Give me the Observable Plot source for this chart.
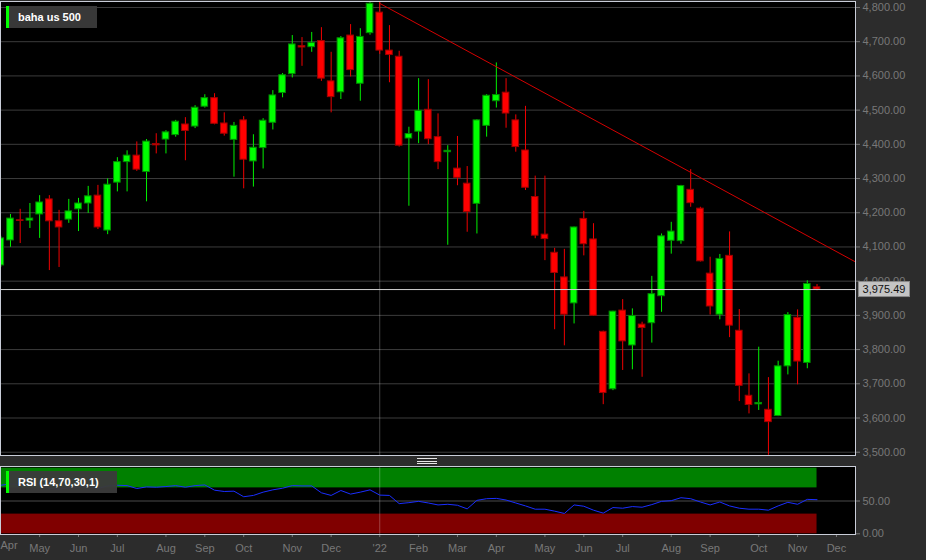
<!DOCTYPE html>
<html><head><meta charset="utf-8">
<script src="https://cdn.jsdelivr.net/npm/d3@7"></script>
<script src="https://cdn.jsdelivr.net/npm/@observablehq/plot@0.6"></script>
<style>
body{margin:0;background:#2c2c2c;}
#wrap{position:relative;width:926px;height:560px;overflow:hidden;background:#2c2c2c;font-family:"Liberation Sans",Arial,sans-serif;}
.tag{position:absolute;height:22px;background:rgba(58,58,58,0.96);color:#fff;font-weight:bold;font-size:11px;line-height:22px;border-left:3px solid #00ff00;box-sizing:border-box;padding-left:9px;white-space:nowrap;}
.hl{position:absolute;left:417px;width:20px;height:1px;background:#e8e8e8;}
</style></head>
<body>
<div id="wrap">
  <div id="main" style="position:absolute;left:0;top:0"></div>
  <div id="rsi" style="position:absolute;left:0;top:458px"></div>
  <div class="tag" style="left:6px;top:6px;width:91px">baha us 500</div>
  <div class="tag" style="left:6px;top:471px;width:111px">RSI (14,70,30,1)</div>
  <div class="hl" style="top:458px"></div>
  <div class="hl" style="top:461px"></div>
  <div class="hl" style="top:463px"></div>
</div>
<script>
// Weekly candles (week index 0 = week ending 2021-04-09)
const open = [4046,4119,4178,4177,4195,4239,4175,4180,4210,4227,
  4250,4148,4288,4348,4367,4319,4401,4414,4427,4458,
  4452,4510,4535,4461,4413,4470,4350,4389,4463,4550,
  4605,4687,4684,4702,4584,4552,4718,4577,4725,4785,
  4674,4656,4417,4437,4501,4421,4377,4329,4285,4226,
  4454,4526,4551,4470,4382,4246,4136,4083,4011,3935,
  4182,4122,3852,3684,3914,3812,3873,3877,3956,4118,
  4117,4267,4212,4022,3902,4074,3855,3665,3640,3624,
  3606,3751,3893,3761,3982];
const high = [4131,4195,4210,4227,4250,4250,4207,4239,4242,4277,
  4280,4299,4361,4381,4407,4414,4431,4440,4470,4478,
  4513,4545,4548,4492,4464,4481,4428,4475,4557,4607,
  4718,4712,4727,4741,4669,4715,4750,4738,4816,4816,
  4747,4672,4450,4592,4589,4489,4396,4423,4335,4472,
  4545,4638,4592,4486,4511,4307,4307,4096,4093,4158,
  4204,4168,3854,3912,3946,3919,3880,4014,4138,4172,
  4280,4326,4216,4070,4078,4144,3917,3729,3807,3718,
  3766,3908,3916,4001,3990];
const low = [4040,4099,4110,4154,4125,4031,4040,4169,4145,4198,
  4151,4136,4261,4261,4321,4232,4372,4372,4421,4352,
  4446,4506,4457,4424,4304,4270,4275,4328,4442,4536,
  4594,4628,4669,4584,4492,4531,4597,4526,4719,4663,
  4580,4392,4219,4402,4399,4326,4105,4279,4143,4138,
  4421,4506,4447,4377,4265,4124,4060,3858,3811,3875,
  4074,3897,3639,3680,3739,3741,3719,3819,3909,4079,
  4108,4216,4056,3901,3887,3835,3648,3612,3622,3491,
  3604,3726,3697,3744,3972];
const close = [4125,4183,4176,4183,4230,4175,4157,4204,4227,4248,
  4157,4282,4348,4367,4326,4408,4397,4435,4466,4439,
  4507,4535,4460,4431,4454,4355,4390,4469,4543,4602,
  4692,4683,4696,4592,4538,4710,4617,4714,4811,4674,
  4661,4396,4430,4498,4415,4348,4381,4302,4202,4470,
  4542,4544,4490,4392,4273,4133,4123,4024,3902,4157,
  4108,3899,3673,3911,3824,3898,3863,3962,4131,4145,
  4278,4228,4058,3926,4065,3870,3694,3638,3644,3588,
  3751,3901,3765,3992,3975.49];
const rsi = [74,76,75,75,76,69,68,70,71,72,69,73,
  74,73.5,69,71.5,71,72,73.5,71,73.5,74.5,
  66.5,64.5,65,56.5,58.5,63.5,67,69.5,73.5,73,
  73,62.5,58.5,66,60.5,63.5,67,59,58.5,46,
  47.5,49.5,47,44,45,43.5,38,51,53.5,54,
  51.5,47,42.5,37.5,37.5,34.5,31,44,42,36,
  31.5,40,39,41.5,40.5,44.5,49.5,50.5,55,53.5,
  48.5,44,48.5,42.5,39,37.5,37.5,36,42.5,48,
  45,52.5,52];

// Trend line anchors (week index, price)
const trendIdx = [39, 71];
const trendVal = [4812, 4318];

// Axis ticks
const priceTicks = d3.range(3500, 4801, 100);
const monthLabels = ["May","Jun","Jul","Aug","Sep","Oct","Nov","Dec","'22","Feb","Mar","Apr","May","Jun","Jul","Aug","Sep","Oct","Nov","Dec"];
const monthIdx = [4,8,12,17,21,25,30,34,39,43,47,51,56,60,64,69,73,78,82,86];
const firstLabel = "Apr";
const yearBreak = 39;
const rsiBands = [{lo:70, hi:100, color:"#008000"}, {lo:0, hi:30, color:"#800000"}];
const rsiTicks = [0, 50];

const candles = open.map((o, i) => ({i, open:o, high:high[i], low:low[i], close:close[i], up: close[i] >= o}));
const lastClose = close[close.length - 1];
const lastIdx = close.length - 1;
const xDomain = [-0.027, 87.96];

const slope = (trendVal[1]-trendVal[0])/(trendIdx[1]-trendIdx[0]);
const trendPts = [{i: trendIdx[0], p: trendVal[0]}, {i: 100, p: trendVal[0] + slope*(100-trendIdx[0])}];

const font = "'Liberation Sans', Arial, sans-serif";
const bw = 0.34;

const main = Plot.plot({
  width: 926, height: 458,
  marginLeft: 0, marginRight: 71, marginTop: 1, marginBottom: 3,
  style: {background: "transparent", color: "#787878", fontSize: "11px", fontFamily: font},
  x: {domain: xDomain, axis: null},
  y: {domain: [3490.4, 4817.5], axis: "right", ticks: priceTicks, tickFormat: d3.format(",.2f"), tickSize: 4, tickPadding: 3, label: null},
  marks: [
    Plot.frame({fill: "#000"}),
    Plot.ruleY(priceTicks, {stroke: "#3c3c3c"}),
    Plot.ruleX([yearBreak], {stroke: "rgba(255,255,255,0.25)"}),
    Plot.ruleX(candles, {x: "i", y1: "low", y2: "high", stroke: d => d.up ? "#00f000" : "#f00000", strokeWidth: 1}),
    Plot.rect(candles, {x1: d => d.i - bw, x2: d => d.i + bw, y1: "open", y2: "close",
      fill: d => d.up ? "#00ff00" : "#ff0000", stroke: d => d.up ? "#008c00" : "#a00000", strokeWidth: 1}),
    Plot.ruleY([lastClose], {stroke: "#d0d0d0"}),
    Plot.line(trendPts, {x: "i", y: "p", stroke: "#d40000", strokeWidth: 1, clip: true}),
    Plot.frame({stroke: "#c9cdd8"})
  ]
});
document.getElementById("main").appendChild(main);

// last price label on the axis
const ys = main.scale("y");
const yLast = ys.apply(lastClose);
const svg = d3.select(main);
svg.append("rect").attr("x", 858.5).attr("y", yLast - 7.5).attr("width", 51).attr("height", 15)
  .attr("fill", "#c4c4c4").attr("stroke", "#8a8a8a").attr("stroke-width", 1);
svg.append("text").attr("x", 884).attr("y", yLast).attr("dy", "0.35em").attr("text-anchor", "middle")
  .attr("fill", "#111").attr("font-size", 11).attr("font-family", font).text(d3.format(",.2f")(lastClose));

const rsiData = rsi.map((v, i) => ({i, v}));
const rsiChart = Plot.plot({
  width: 926, height: 102,
  marginLeft: 0, marginRight: 71, marginTop: 8, marginBottom: 26,
  style: {background: "transparent", color: "#787878", fontSize: "11px", fontFamily: font},
  x: {domain: xDomain, ticks: monthIdx, tickFormat: d => monthLabels[monthIdx.indexOf(d)], tickSize: 3, tickPadding: 7, label: null},
  y: {domain: [-1.07, 102.6], axis: "right", ticks: rsiTicks, tickFormat: d3.format(".2f"), tickSize: 4, tickPadding: 3, label: null},
  marks: [
    Plot.frame({fill: "#000"}),
    Plot.rect(rsiBands, {x1: xDomain[0], x2: lastIdx, y1: "lo", y2: "hi", fill: "color"}),
    Plot.ruleY([50], {stroke: "#4a4a4a"}),
    Plot.ruleX([yearBreak], {stroke: "rgba(255,255,255,0.25)"}),
    Plot.line(rsiData, {x: "i", y: "v", stroke: "#1a2eff", strokeWidth: 1}),
    Plot.text([firstLabel], {x: xDomain[0], frameAnchor: "bottom", textAnchor: "start", dy: 14, text: d => d, fill: "#787878", fontSize: 11}),
    Plot.frame({stroke: "#c9cdd8"})
  ]
});
document.getElementById("rsi").appendChild(rsiChart);
</script>
</body></html>
